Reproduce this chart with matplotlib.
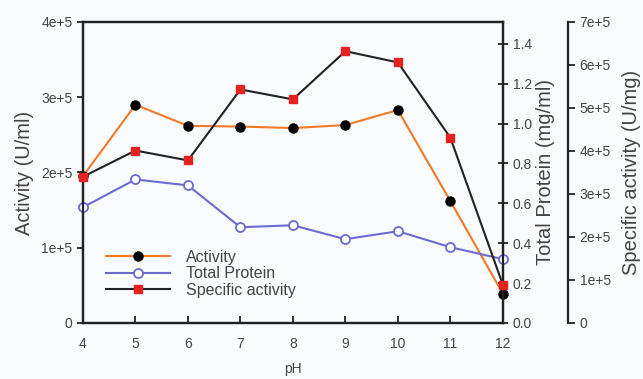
import matplotlib.pyplot as plt

plt.rcParams['font.family'] = ['Liberation Sans', 'DejaVu Sans']

ph = [4, 5, 6, 7, 8, 9, 10, 11, 12]
activity = [1.95e5, 2.90e5, 2.62e5, 2.61e5, 2.59e5, 2.63e5, 2.83e5, 1.62e5, 0.39e5]
protein = [0.58, 0.72, 0.69, 0.48, 0.49, 0.42, 0.46, 0.38, 0.32]
specific = [3.40e5, 4.01e5, 3.78e5, 5.43e5, 5.20e5, 6.32e5, 6.06e5, 4.31e5, 0.89e5]

left_ticks = [0, 1e5, 2e5, 3e5, 4e5]
left_labels = ["0", "1e+5", "2e+5", "3e+5", "4e+5"]
prot_ticks = [0.0, 0.2, 0.4, 0.6, 0.8, 1.0, 1.2, 1.4]
spec_ticks = [0, 1e5, 2e5, 3e5, 4e5, 5e5, 6e5, 7e5]
spec_labels = ["0", "1e+5", "2e+5", "3e+5", "4e+5", "5e+5", "6e+5", "7e+5"]

orange = "#f07a28"
blue = "#6b6bd0"
red = "#e52222"
grey = "#444444"

fig = plt.figure(figsize=(6.43, 3.79), dpi=100, facecolor='#fafbfc')
ax = fig.add_axes([0.129, 0.148, 0.653, 0.794])
ax.set_facecolor('#fafbfc')
ax2 = ax.twinx()
ax3 = ax.twinx()
ax3.spines['right'].set_position(('axes', 1.155))

l1, = ax.plot(ph, activity, color=orange, lw=1.5, marker='o', ms=6.5,
              mfc='black', mec='black', label='Activity', clip_on=False)
l2, = ax2.plot(ph, protein, color=blue, lw=1.5, marker='o', ms=6.5,
               mfc='white', mec=blue, mew=1.3, label='Total Protein', clip_on=False)
l3, = ax3.plot(ph, specific, color='#222222', lw=1.5, marker='s', ms=5.5,
               mfc=red, mec=red, label='Specific activity', clip_on=False)

ax.set_xlim(4, 12)
ax.set_ylim(0, 4e5)
ax2.set_ylim(0, 1.51)
ax3.set_ylim(0, 7e5)

ax.set_xticks(ph)
ax.set_yticks(left_ticks)
ax.set_yticklabels(left_labels)
ax2.set_yticks(prot_ticks)
ax2.set_yticklabels([f"{t:.1f}" for t in prot_ticks])
ax3.set_yticks(spec_ticks)
ax3.set_yticklabels(spec_labels)

for a in (ax, ax2, ax3):
    for s in a.spines.values():
        s.set_linewidth(1.6)
        s.set_color('#222222')
    a.tick_params(labelsize=10, labelcolor=grey, color='#222222', width=1.3)
ax3.spines['left'].set_visible(False)
ax3.spines['top'].set_visible(False)
ax3.spines['bottom'].set_visible(False)

ax.tick_params(axis='x', direction='in', length=5, pad=10)
ax.tick_params(axis='y', direction='out', length=4)
ax2.tick_params(axis='y', direction='inout', length=7)
ax3.tick_params(axis='y', direction='out', length=5)

ax.set_xlabel('pH', fontsize=10, color=grey, labelpad=8)
ax.set_ylabel('Activity (U/ml)', fontsize=14.5, color=grey, labelpad=5)
ax2.set_ylabel('Total Protein (mg/ml)', fontsize=14.5, color=grey, labelpad=3)
ax3.set_ylabel('Specific activity (U/mg)', fontsize=14.5, color=grey, labelpad=8)

ax3.legend(handles=[l1, l2, l3], loc='lower left', bbox_to_anchor=(0.02, 0.035),
           frameon=False, fontsize=11.5, handlelength=4.0, handletextpad=1.0,
           labelspacing=0.1, labelcolor=grey)

fig.savefig('out.png', facecolor=fig.get_facecolor())
